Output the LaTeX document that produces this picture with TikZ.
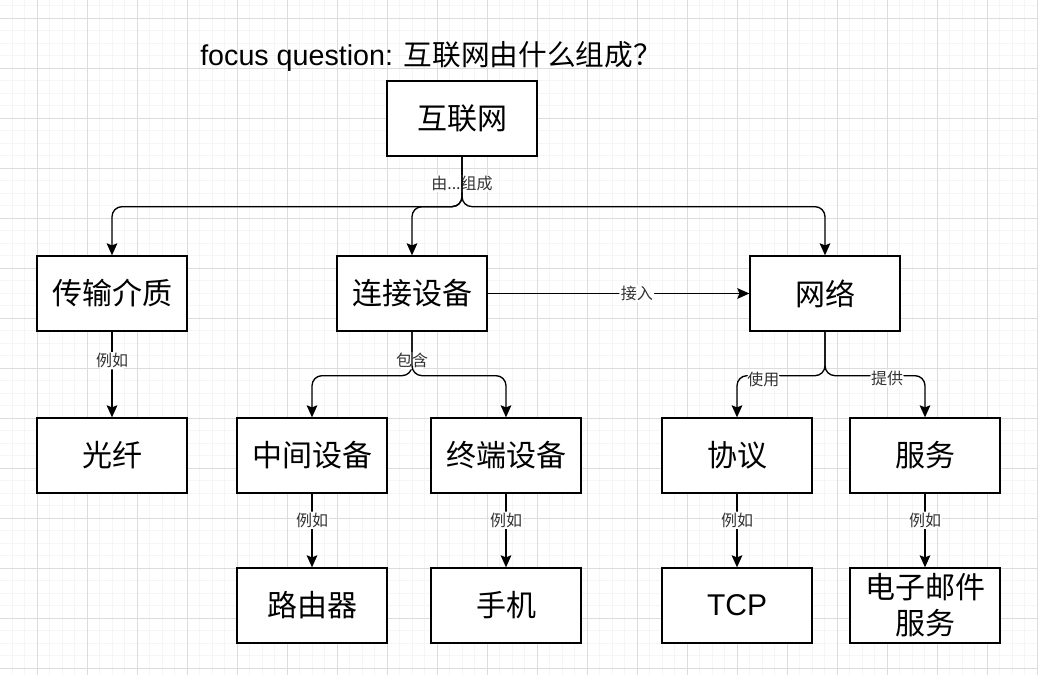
\documentclass[tikz,border=0pt]{standalone}
\usepackage{fontspec}
\setmainfont{Liberation Sans}
\newfontfamily\cjk{Noto Sans CJK SC}
\usetikzlibrary{arrows.meta}
\definecolor{minorgrid}{HTML}{F5F5F5}
\definecolor{majorgrid}{HTML}{DCDCDC}
\definecolor{lbltext}{HTML}{333333}
\begin{document}
\begin{tikzpicture}[x=0.75pt,y=-0.75pt,
  box/.style={draw=black, line width=1pt, fill=white, minimum width=112.5pt, minimum height=56.25pt, inner sep=0pt, align=center, font=\cjk\fontsize{22.5}{27}\selectfont},
  lbl/.style={fill=white, inner sep=1pt, text=lbltext, font=\cjk\fontsize{12}{14}\selectfont},
  conn/.style={line width=1pt, rounded corners=7.5pt, -{Stealth[length=9pt,width=8pt,inset=1.5pt]}}]
\useasboundingbox (0,0) rectangle (1038,675);
\fill[white] (0,0) rectangle (1038,675);
% grid
\foreach \i in {0,...,83} \draw[minorgrid, line width=0.5pt] (-0.2+12.5*\i,0) -- (-0.2+12.5*\i,675);
\foreach \j in {0,...,53} \draw[minorgrid, line width=0.5pt] (0,5.8+12.5*\j) -- (1038,5.8+12.5*\j);
\foreach \i in {0,...,20} \draw[majorgrid, line width=0.6pt] (37.3+50*\i,0) -- (37.3+50*\i,675);
\foreach \j in {0,...,13} \draw[majorgrid, line width=0.6pt] (0,18.3+50*\j) -- (1038,18.3+50*\j);
% title
\node[anchor=west, inner sep=0pt, font=\fontsize{21.5}{25}\selectfont] (fq) at (200,56) {focus question: {\cjk 互联网由什么组成？}};
% boxes
\node[box] (inet) at (462,118.5) {互联网};
\node[box] (media) at (112,293.5) {传输介质};
\node[box] (dev) at (412,293.5) {连接设备};
\node[box] (net) at (825,293.5) {网络};
\node[box] (fiber) at (112,455.5) {光纤};
\node[box] (mid) at (312,455.5) {中间设备};
\node[box] (term) at (506,455.5) {终端设备};
\node[box] (proto) at (737,455.5) {协议};
\node[box] (serv) at (925,455.5) {服务};
\node[box] (router) at (312,605.5) {路由器};
\node[box] (phone) at (506,605.5) {手机};
\node[box, font=\fontsize{22.5}{27}\selectfont] (tcp) at (737,605.5) {TCP};
\node[box] (email) at (925,605.5) {电子邮件\\服务};
% connectors
\draw[conn] (inet.south) -- node[lbl, pos=0.54] {由...组成} ++(0,50) -| (media.north);
\draw[conn] (inet.south) -- ++(0,50) -| (dev.north);
\draw[conn] (inet.south) -- ++(0,50) -| (net.north);
\draw[conn] (dev.east) -- node[lbl, pos=0.57] {接入} (net.west);
\draw[conn] (media.south) -- node[lbl, pos=0.34] {例如} (fiber.north);
\draw[conn] (dev.south) -- node[lbl, pos=0.66] {包含} ++(0,44) -| (mid.north);
\draw[conn] (dev.south) -- ++(0,44) -| (term.north);
\draw[conn] (net.south) -- ++(0,44) -| node[lbl, pos=0.35, yshift=-3pt] {使用} (proto.north);
\draw[conn] (net.south) -- ++(0,44) -| node[lbl, pos=0.31, yshift=-2pt] {提供} (serv.north);
\draw[conn] (mid.south) -- node[lbl, pos=0.36] {例如} (router.north);
\draw[conn] (term.south) -- node[lbl, pos=0.36] {例如} (phone.north);
\draw[conn] (proto.south) -- node[lbl, pos=0.36] {例如} (tcp.north);
\draw[conn] (serv.south) -- node[lbl, pos=0.36] {例如} (email.north);
\end{tikzpicture}
\end{document}
